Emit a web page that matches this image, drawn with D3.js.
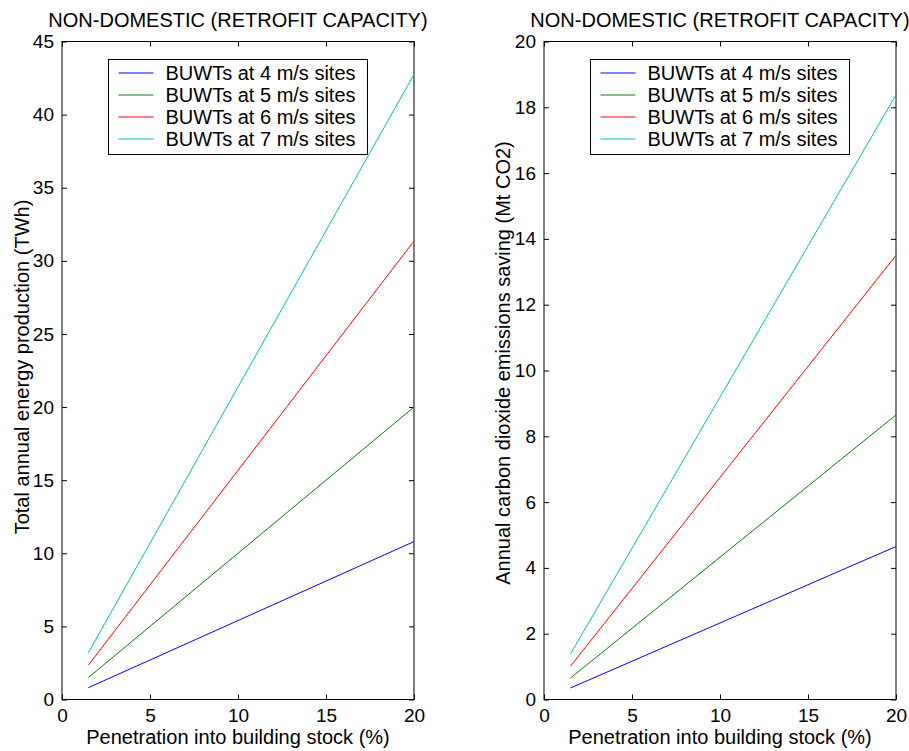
<!DOCTYPE html>
<html><head><meta charset="utf-8">
<script src="https://cdn.jsdelivr.net/npm/d3@7"></script>
<style>body{margin:0;background:#fff}svg{display:block}text{font-family:"Liberation Sans",Arial,sans-serif;fill:#000}</style>
</head><body><svg id="c" width="909" height="751"></svg>
<script>
const penetration = [1.5, 20];
const seriesNames = ["BUWTs at 4 m/s sites","BUWTs at 5 m/s sites","BUWTs at 6 m/s sites","BUWTs at 7 m/s sites"];
const seriesColors = ["#0000ff","#008000","#ff0000","#00bfbf"];
const energyTWh = [[0.81,10.8],[1.5,20.0],[2.35,31.35],[3.21,42.75]];
const co2Mt = [[0.35,4.65],[0.65,8.65],[1.01,13.5],[1.38,18.38]];
const xTicks = [0,5,10,15,20];
const energyTicks = [0,5,10,15,20,25,30,35,40,45];
const co2Ticks = [0,2,4,6,8,10,12,14,16,18,20];
const titleText = "NON-DOMESTIC (RETROFIT CAPACITY)";
const xLabel = "Penetration into building stock (%)";

const svg = d3.select("#c");
const fs = 20, tfs = 19;
function panel(x0, x1, yMax, yTicks, data, yLabel, yLabelX, yLabelY){
  const top = 41.5, bottom = 699.5;
  const x = d3.scaleLinear().domain([0,20]).range([x0, x1]);
  const y = d3.scaleLinear().domain([0,yMax]).range([bottom, top]);
  const g = svg.append("g");
  const tl = 5;
  const styleText = a => a.selectAll("text").attr("font-size",tfs).style("font-family","Liberation Sans, Arial").attr("fill","#000");
  g.append("g").attr("transform",`translate(0,${bottom})`).call(d3.axisBottom(x).tickValues(xTicks).tickSizeInner(-tl).tickSizeOuter(0).tickPadding(9).tickFormat(d3.format("d")))
    .call(a=>{a.select(".domain").remove();styleText(a);a.selectAll("text").attr("dy","0.71em");a.selectAll("line").attr("stroke","#000");});
  g.append("g").attr("transform",`translate(0,${top})`).call(d3.axisTop(x).tickValues(xTicks).tickSizeInner(-tl).tickSizeOuter(0).tickFormat(""))
    .call(a=>{a.select(".domain").remove();a.selectAll("line").attr("stroke","#000");});
  g.append("g").attr("transform",`translate(${x0},0)`).call(d3.axisLeft(y).tickValues(yTicks).tickSizeInner(-tl).tickSizeOuter(0).tickPadding(8).tickFormat(d3.format("d")))
    .call(a=>{a.select(".domain").remove();styleText(a);a.selectAll("line").attr("stroke","#000");});
  g.append("g").attr("transform",`translate(${x1},0)`).call(d3.axisRight(y).tickValues(yTicks).tickSizeInner(-tl).tickSizeOuter(0).tickFormat(""))
    .call(a=>{a.select(".domain").remove();a.selectAll("line").attr("stroke","#000");});
  g.append("rect").attr("x",x0).attr("y",top).attr("width",x1-x0).attr("height",bottom-top).attr("fill","none").attr("stroke","#000");
  const line = d3.line().x((d,i)=>x(penetration[i])).y(d=>y(d));
  data.forEach((s,i)=>{
    g.append("path").attr("d",line(s)).attr("fill","none").attr("stroke",seriesColors[i]).attr("stroke-width",1);
  });
  const lx = x0 + 46.5, ly = 59.5, lw = 259, lh = 95;
  const lg = g.append("g");
  lg.append("rect").attr("x",lx).attr("y",ly).attr("width",lw).attr("height",lh).attr("fill","#fff").attr("stroke","#000");
  seriesNames.forEach((n,i)=>{
    const yy = ly + 13.5 + i*22;
    lg.append("line").attr("x1",lx+10).attr("x2",lx+45).attr("y1",yy).attr("y2",yy).attr("stroke",seriesColors[i]);
    lg.append("text").attr("x",lx+57).attr("y",yy).attr("dy","0.35em").attr("font-size",fs).text(n);
  });
  g.append("text").attr("x",(x0+x1)/2).attr("y",27).attr("text-anchor","middle").attr("font-size",fs).text(titleText);
  g.append("text").attr("x",(x0+x1)/2).attr("y",744).attr("text-anchor","middle").attr("font-size",fs).text(xLabel);
  g.append("text").attr("transform",`translate(${yLabelX},${yLabelY}) rotate(-90)`).attr("text-anchor","middle").attr("font-size",fs).text(yLabel);
}
panel(62, 414, 45, energyTicks, energyTWh, "Total annual energy production (TWh)", 29, 367);
panel(544, 896, 20, co2Ticks, co2Mt, "Annual carbon dioxide emissions saving (Mt CO2)", 510, 363);
</script></body></html>
